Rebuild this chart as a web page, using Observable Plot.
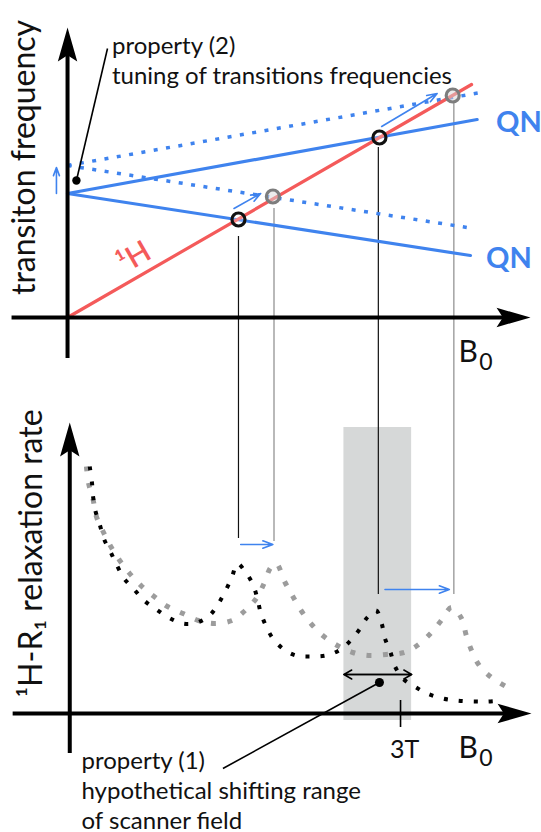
<!DOCTYPE html>
<html><head><meta charset="utf-8">
<script src="https://cdn.jsdelivr.net/npm/d3@7"></script>
<script src="https://cdn.jsdelivr.net/npm/@observablehq/plot@0.6"></script>
<style>
html,body{margin:0;padding:0;background:#fff;}
#chart{width:541px;}
#chart svg{display:block;}
</style></head><body><div id="chart"></div>
<script>
// ---------- DATA (B0 in tesla; frequency and R1 in arbitrary units) ----------
// top panel: transition frequencies vs B0
const protonLine   = [{b0: 0, f: 0}, {b0: 3.64, f: 2.33}];
const qnUpper      = [{b0: 0, f: 1.24}, {b0: 3.69, f: 1.98}];
const qnLower      = [{b0: 0, f: 1.24}, {b0: 3.63, f: 0.62}];
const qnUpperTuned = [{b0: 0, f: 1.52}, {b0: 3.72, f: 2.25}];
const qnLowerTuned = [{b0: 0, f: 1.52}, {b0: 3.66, f: 0.89}];
const crossingsBefore = [{b0: 1.54, f: 0.98}, {b0: 2.81, f: 1.80}];
const crossingsAfter  = [{b0: 1.85, f: 1.21}, {b0: 3.47, f: 2.22}];
const tuningArrows = [
  {b0a: -0.10, fa: 1.24, b0b: -0.10, fb: 1.50},
  {b0a: 1.50, fa: 1.09, b0b: 1.74, fb: 1.24},
  {b0a: 2.83, fa: 1.91, b0b: 3.33, fb: 2.24}
];
// guide lines from each crossing down to the matching R1 peak
const guidesBefore = [{b0: 1.54, fStart: 0.81, r1End: 1.75}, {b0: 2.80, fStart: 1.70, r1End: 1.19}];
const guidesAfter  = [{b0: 1.86, fStart: 1.09, r1End: 1.72}, {b0: 3.48, fStart: 2.15, r1End: 1.19}];

// bottom panel: 1H R1 dispersion (before / after tuning)
const r1Before = [
  [0.20,2.47],[0.22,2.31],[0.23,2.17],[0.25,2.03],[0.29,1.89],[0.33,1.74],[0.39,1.61],[0.45,1.47],
  [0.51,1.35],[0.60,1.24],[0.69,1.13],[0.80,1.04],[0.91,0.96],[1.04,0.90],[1.17,0.91],[1.28,0.98],
  [1.36,1.10],[1.42,1.22],[1.48,1.36],[1.53,1.50],[1.60,1.42],[1.67,1.29],[1.71,1.15],[1.74,1.01],
  [1.79,0.87],[1.85,0.75],[1.95,0.64],[2.06,0.58],[2.19,0.57],[2.33,0.58],[2.46,0.64],[2.55,0.73],
  [2.63,0.84],[2.70,0.96],[2.78,1.03],[2.83,0.90],[2.86,0.75],[2.91,0.61],[2.95,0.47],[3.03,0.34],
  [3.14,0.26],[3.24,0.20],[3.38,0.15],[3.50,0.13],[3.65,0.12],[3.78,0.12],[3.90,0.13]
].map(([b0, r1]) => ({b0, r1}));
const r1After = [
  [0.17,2.47],[0.19,2.30],[0.23,2.14],[0.26,1.97],[0.32,1.82],[0.39,1.67],[0.47,1.53],[0.56,1.40],
  [0.67,1.27],[0.78,1.17],[0.90,1.07],[1.04,1.00],[1.18,0.93],[1.32,0.90],[1.48,0.93],[1.59,1.02],
  [1.70,1.15],[1.77,1.30],[1.83,1.46],[1.88,1.50],[1.96,1.31],[2.03,1.17],[2.11,1.02],[2.20,0.89],
  [2.31,0.77],[2.43,0.68],[2.57,0.61],[2.71,0.58],[2.87,0.59],[3.03,0.61],[3.15,0.68],[3.27,0.80],
  [3.36,0.92],[3.46,1.06],[3.55,0.95],[3.59,0.79],[3.64,0.63],[3.71,0.48],[3.82,0.36],[3.95,0.27]
].map(([b0, r1]) => ({b0, r1}));
const shiftArrows = [{b0a: 1.56, b0b: 1.85, r1: 1.69}, {b0a: 2.86, b0b: 3.44, r1: 1.24}];
const scannerRange = [{b0Min: 2.49, b0Max: 3.10}];
const fieldTicks = [{b0: 3, label: "3T"}];

// text
const topTitle = "transiton frequency";
const bottomTitle = "¹H-R₁ relaxation rate";
const note2 = "property (2)\ntuning of transitions frequencies";
const note1 = "property (1)\nhypothetical shifting range\nof scanner field";
const qnLabel = "QN";
const protonLabel = "¹H";

// ---------- STYLE ----------
const BLUE = "#3f83ee", RED = "#f45a5a", GREY = "#9c9c9c";
const FONT = "Lato, 'Open Sans', sans-serif";
const xDomain = [-0.604, 4.270];
const dart = {
  draw(ctx, size) {
    const r = Math.sqrt(size / Math.PI);
    ctx.moveTo(0, 0);
    ctx.lineTo(r, 3.5 * r);
    ctx.lineTo(0, 2.85 * r);
    ctx.lineTo(-r, 3.5 * r);
    ctx.closePath();
  }
};
const txt = (s, o) => Plot.text([s], {text: d => d, textAnchor: "start", lineAnchor: "bottom", fill: "#111", ...o});
const dots = {strokeLinecap: "butt", strokeLinejoin: "miter"};

const topY = [-0.63, 3.17];
const topChart = Plot.plot({
  width: 541, height: 380, margin: 0,
  x: {domain: xDomain, axis: null},
  y: {domain: topY, axis: null},
  style: {fontFamily: FONT, background: "white"},
  marks: [
    Plot.ruleX(guidesBefore, {x: "b0", y1: "fStart", y2: topY[0], stroke: "#111", strokeWidth: 1.2}),
    Plot.ruleX(guidesAfter, {x: "b0", y1: "fStart", y2: topY[0], stroke: "#a8a8a8", strokeWidth: 1.6}),
    Plot.line(qnUpperTuned, {x: "b0", y: "f", stroke: BLUE, strokeWidth: 3.5, strokeDasharray: "4 8.5", ...dots}),
    Plot.line(qnLowerTuned, {x: "b0", y: "f", stroke: BLUE, strokeWidth: 3.5, strokeDasharray: "4 8.5", ...dots}),
    Plot.line(qnUpper, {x: "b0", y: "f", stroke: BLUE, strokeWidth: 3.2}),
    Plot.line(qnLower, {x: "b0", y: "f", stroke: BLUE, strokeWidth: 3.2}),
    Plot.line(protonLine, {x: "b0", y: "f", stroke: RED, strokeWidth: 3.2}),
    Plot.dot(crossingsAfter, {x: "b0", y: "f", r: 6.5, stroke: "#7d7d7d", strokeWidth: 3.2, fill: "#d8d8d8", fillOpacity: 0.5}),
    Plot.dot(crossingsBefore, {x: "b0", y: "f", r: 6.5, stroke: "#111", strokeWidth: 3.2, fill: "white", fillOpacity: 0.25}),
    Plot.arrow(tuningArrows, {x1: "b0a", y1: "fa", x2: "b0b", y2: "fb", stroke: BLUE, strokeWidth: 1.6, headLength: 10, headAngle: 40}),
    // axes
    Plot.ruleY([0], {x1: -0.50, x2: 3.99, strokeWidth: 4, stroke: "#000"}),
    Plot.ruleX([0], {y1: -0.41, y2: 2.70, strokeWidth: 4, stroke: "#000"}),
    Plot.dot([{x: 0, y: 2.90, a: 0}, {x: 4.171, y: 0, a: 90}], {x: "x", y: "y", rotate: "a", symbol: dart, r: 9.7, fill: "#000", stroke: "none"}),
    // annotation (2)
    Plot.link([0], {x1: 0.08, y1: 1.37, x2: 0.36, y2: 2.69, stroke: "#000", strokeWidth: 1.6}),
    Plot.dot([0], {x: 0.08, y: 1.37, r: 4.2, fill: "#000", stroke: "none"}),
    txt(note2, {x: 0.40, y: 2.34, fontSize: 24, lineHeight: 30 / 24}),
    // labels
    txt(topTitle, {x: -0.293, y: 1.60, rotate: -90, textAnchor: "middle", fontSize: 32}),
    Plot.text([protonLabel], {text: d => d, x: 0.60, y: 0.60, rotate: -30, fill: RED, fontSize: 30, fontWeight: 600}),
    txt(qnLabel, {x: 3.86, y: 1.86, fill: BLUE, fontSize: 29, fontWeight: 700}),
    txt(qnLabel, {x: 3.77, y: 0.50, fill: BLUE, fontSize: 29, fontWeight: 700}),
    txt("B", {x: 3.523, y: -0.44, fontSize: 30}),
    txt("0", {x: 3.71, y: -0.52, fontSize: 23})
  ]
});

const botY = [-1.19, 3.33];
const bottomChart = Plot.plot({
  width: 541, height: 452, margin: 0,
  x: {domain: xDomain, axis: null},
  y: {domain: botY, axis: null},
  style: {fontFamily: FONT, background: "white"},
  marks: [
    Plot.rect(scannerRange, {x1: "b0Min", x2: "b0Max", y1: -0.07, y2: 2.86, fill: "#d6d8d8"}),
    Plot.ruleX(guidesBefore, {x: "b0", y1: botY[1], y2: "r1End", stroke: "#111", strokeWidth: 1.2}),
    Plot.ruleX(guidesAfter, {x: "b0", y1: botY[1], y2: "r1End", stroke: "#a8a8a8", strokeWidth: 1.6}),
    Plot.line(r1After, {x: "b0", y: "r1", curve: "catmull-rom", stroke: GREY, strokeWidth: 5, strokeDasharray: "5 11.5", ...dots}),
    Plot.line(r1Before, {x: "b0", y: "r1", curve: "catmull-rom", stroke: "#000", strokeWidth: 4, strokeDasharray: "4 11", ...dots}),
    Plot.arrow(shiftArrows, {x1: "b0a", y1: "r1", x2: "b0b", y2: "r1", stroke: BLUE, strokeWidth: 1.6, headLength: 10, headAngle: 40}),
    // axes
    Plot.ruleY([0], {x1: -0.49, x2: 4.0, strokeWidth: 4, stroke: "#000"}),
    Plot.ruleX([0.02], {y1: -0.40, y2: 2.71, strokeWidth: 4, stroke: "#000"}),
    Plot.dot([{x: 0.02, y: 2.91, a: 0}, {x: 4.18, y: 0, a: 90}], {x: "x", y: "y", rotate: "a", symbol: dart, r: 9.7, fill: "#000", stroke: "none"}),
    Plot.ruleX(fieldTicks, {x: "b0", y1: -0.14, y2: 0.13, stroke: "#000", strokeWidth: 1.6}),
    Plot.text(fieldTicks, {x: "b0", y: -0.44, dx: 4, text: "label", lineAnchor: "bottom", fontSize: 25, fill: "#111"}),
    // annotation (1): double-headed arrow for the shifting range
    Plot.arrow(scannerRange, {x1: "b0Min", x2: "b0Max", y1: 0.39, y2: 0.39, stroke: "#000", strokeWidth: 1.5, headLength: 9, headAngle: 60}),
    Plot.arrow(scannerRange, {x1: "b0Max", x2: "b0Min", y1: 0.39, y2: 0.39, stroke: "#000", strokeWidth: 1.5, headLength: 9, headAngle: 60}),
    Plot.link([0], {x1: 2.81, y1: 0.31, x2: 1.40, y2: -0.55, stroke: "#000", strokeWidth: 1.6}),
    Plot.dot([0], {x: 2.81, y: 0.31, r: 4.5, fill: "#000", stroke: "none"}),
    txt(note1, {x: 0.126, y: -1.15, fontSize: 24, lineHeight: 30 / 24}),
    // labels
    txt(bottomTitle, {x: -0.234, y: 1.60, rotate: -90, textAnchor: "middle", fontSize: 32}),
    txt("B", {x: 3.523, y: -0.44, fontSize: 30}),
    txt("0", {x: 3.71, y: -0.52, fontSize: 23})
  ]
});

document.getElementById("chart").append(topChart, bottomChart);
</script></body></html>
